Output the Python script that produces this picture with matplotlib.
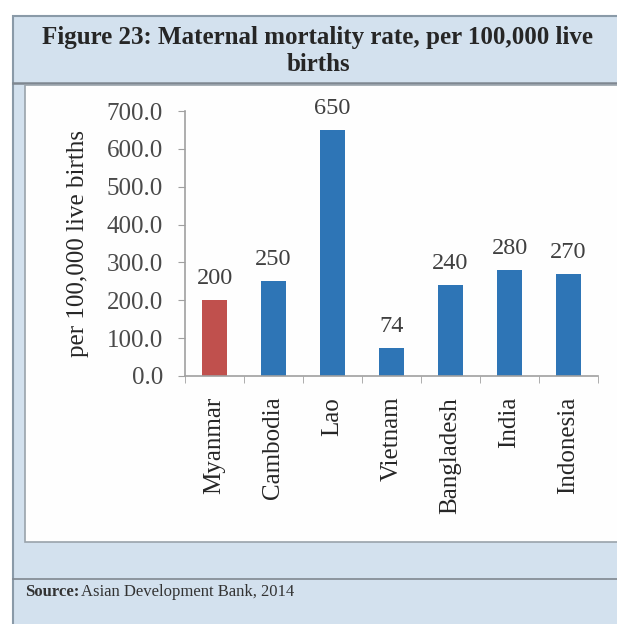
import matplotlib
matplotlib.use("Agg")
import matplotlib.pyplot as plt
from matplotlib.patches import Rectangle
from matplotlib.lines import Line2D

countries = ["Myanmar", "Cambodia", "Lao", "Vietnam", "Bangladesh", "India", "Indonesia"]
values = [200, 250, 650, 74, 240, 280, 270]
value_labels = ["200", "250", "650", "74", "240", "280", "270"]
yticks = [0, 100, 200, 300, 400, 500, 600, 700]
title = "Figure 23: Maternal mortality rate, per 100,000 live\nbirths"
ylabel = "per 100,000 live births"
source_bold = "Source:"
source_text = "Asian Development Bank, 2014"

plt.rcParams['font.family'] = ['Liberation Serif', 'DejaVu Serif']

W, H = 617, 624
fig = plt.figure(figsize=(W / 100, H / 100), dpi=100)
fig.patch.set_facecolor("white")

def px(x0, y0, x1, y1):
    return (x0 / W, 1 - y1 / H, (x1 - x0) / W, (y1 - y0) / H)

band = "#d3e1ee"
# outer light-blue frame
x, y, w, h = px(13, 16, 640, 640)
fig.patches.append(Rectangle((x, y), w, h, transform=fig.transFigure, facecolor=band,
                             edgecolor="#8a9aa8", linewidth=1.5, zorder=0))
# line under title
fig.add_artist(Line2D([13 / W, 1], [1 - 83 / H] * 2, transform=fig.transFigure, color="#7f8790", lw=1.8, zorder=1))
# white chart panel
x, y, w, h = px(25, 85, 640, 542)
fig.patches.append(Rectangle((x, y), w, h, transform=fig.transFigure, facecolor="#fefefe",
                             edgecolor="#9aa3ab", linewidth=1.2, zorder=1))
# line above source
fig.add_artist(Line2D([13 / W, 1], [1 - 579 / H] * 2, transform=fig.transFigure, color="#7f8790", lw=1.2, zorder=1))

fig.text(318 / W, 1 - 51 / H, title, ha="center", va="center", fontsize=18,
         fontweight="bold", color="#262626", linespacing=1.2, zorder=3)
t1 = fig.text(25 / W, 1 - 592 / H, source_bold, ha="left", va="center", fontsize=12,
              fontweight="bold", color="#333333", zorder=3)

ax = fig.add_axes((185 / W, 1 - 376 / H, (598 - 185) / W, (376 - 111) / H))
ax.annotate(source_text, xy=(1, 0.5), xycoords=t1, xytext=(1, 0), textcoords="offset points",
            ha="left", va="center", fontsize=12, color="#333333", annotation_clip=False)
ax.set_facecolor("none")
ax.set_zorder(4)
colors = ["#c0504d"] + ["#2e75b6"] * (len(countries) - 1)
pos = list(range(len(countries)))
bars = ax.bar(pos, values, width=0.42, color=colors)
for b, lab in zip(bars, value_labels):
    ax.annotate(lab, xy=(b.get_x() + b.get_width() / 2, b.get_height()), xytext=(0, 11.5),
                textcoords="offset points", ha="center", va="baseline", fontsize=17.5,
                color="#404040", annotation_clip=False)

ax.set_xlim(-0.5, len(countries) - 0.5)
ax.set_ylim(0, 700)
ax.set_yticks(yticks)
ax.set_yticklabels([f"{v:.1f}" for v in yticks], fontsize=18, color="#4a4a4a")
ax.set_xticks(pos)
ax.set_xticklabels(countries, rotation=90, fontsize=18, color="#262626")
ax.set_xticks([p - 0.5 for p in pos] + [len(countries) - 0.5], minor=True)
ax.tick_params(axis="x", which="major", length=0, pad=15)
ax.tick_params(axis="x", which="minor", length=5, color="#a0a0a0")
ax.tick_params(axis="y", length=5, color="#a0a0a0", pad=11)
for s in ["top", "right"]:
    ax.spines[s].set_visible(False)
for s in ["left", "bottom"]:
    ax.spines[s].set_color("#a0a0a0")
    ax.spines[s].set_linewidth(1.2)
ax.set_ylabel(ylabel, fontsize=18, color="#262626", va="center")
ax.yaxis.set_label_coords((78 - 185) / 413, 0.5)

fig.savefig("out.png", dpi=100)
